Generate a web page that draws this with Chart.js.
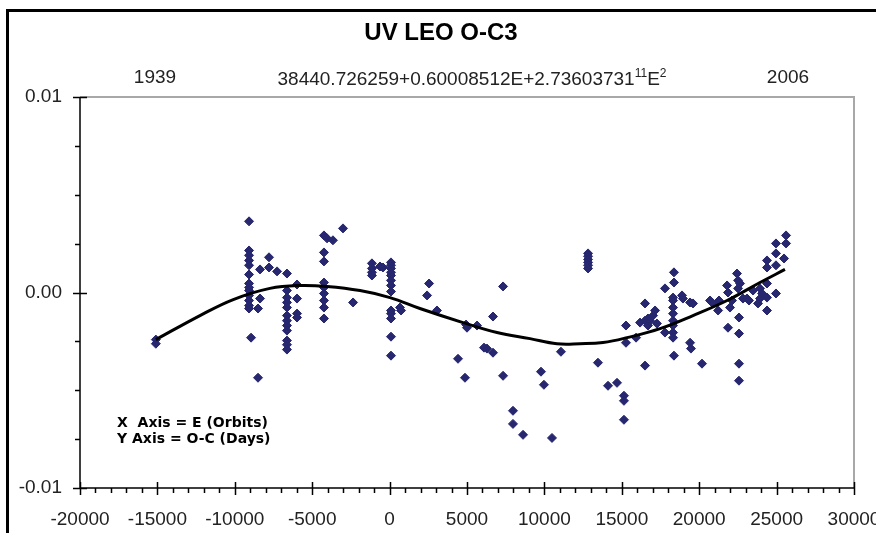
<!DOCTYPE html>
<html>
<head>
<meta charset="utf-8">
<title>UV LEO O-C3</title>
<script src="https://cdn.jsdelivr.net/npm/chart.js@4.4.1/dist/chart.umd.min.js"></script>
<style>
  html, body { margin: 0; padding: 0; background: #fff; }
  canvas { display: block; }
</style>
</head>
<body>
<canvas id="ocChart" width="876" height="533"></canvas>
<script>
// observed times of minimum: cycle number E and O-C residual in days
const orbitE = [
  -15100, -15100,
  -9080, -9080, -9080, -9080, -9080, -9080, -9080, -9080, -9080, -9080, -9080, -9080, -9080,
  -8950, -8500, -8500, -8370, -8370, -7790, -7790, -7270,
  -6630, -6630, -6630, -6630, -6630, -6630, -6630, -6630, -6630, -6630, -6630, -6630,
  -5980, -5980, -5980, -5980,
  -4240, -4240, -4240, -4240, -4240, -4240, -4240, -4240, -4240,
  -4040, -3660, -3010, -2360,
  -1140, -1140, -1140, -1140, -620, -430,
  90, 90, 90, 90, 90, 90, 90, 90, 90, 90, 90, 90, 90,
  670, 740, 2420, 2550, 3060, 4420, 4870, 4940, 5000, 5650, 6100, 6290,
  6680, 6680, 7330, 7330, 7970, 7970, 8620, 9780, 9970, 10490, 11070,
  12820, 12820, 12820, 12820, 12820, 12820,
  13460, 14110, 14690, 15140, 15140, 15140, 15270, 15270, 15920, 16180,
  16500, 16500, 16500, 16690, 16690, 16820, 17020, 17150, 17270,
  17790, 17790,
  18310, 18310, 18310, 18310, 18310, 18310, 18310, 18310,
  18370, 18370, 18370,
  18890, 18950, 19410, 19410, 19470, 19600, 20180, 20700, 20890, 21220, 21280,
  21800, 21860, 21860, 21990, 22120, 22440, 22510, 22510,
  22570, 22570, 22570, 22570, 22640, 22830, 23090, 23220, 23480, 23800, 23930, 23930, 24060,
  24380, 24380, 24380, 24380, 24380,
  24960, 24960, 24960, 24960,
  25480, 25610, 25610
];
const ocDays = [
  -0.00241, -0.00262,
  0.00364, 0.00215, 0.0019, 0.00164, 0.00139, 0.00092, 0.00046, 0.00026, 0.0001, -0.00015, -0.00041, -0.00067, -0.00082,
  -0.00231, -0.00436, -0.00082, 0.00118, -0.00031, 0.0018, 0.00128, 0.00108,
  0.00097, 0.0001, -0.00026, -0.00051, -0.00077, -0.00118, -0.00144, -0.00169, -0.00195, -0.00246, -0.00267, -0.00292,
  0.00041, -0.00031, -0.00108, -0.00128,
  0.00292, 0.00205, 0.00159, 0.00051, 0.00026, -0.00005, -0.00041, -0.00077, -0.00133,
  0.00277, 0.00267, 0.00328, -0.00051,
  0.00149, 0.00123, 0.00103, 0.00087, 0.00133, 0.00128,
  0.00154, 0.00139, 0.00123, 0.00103, 0.00087, 0.00062, 0.00036, 0.00005, -0.00092, -0.00108, -0.00133, -0.00226, -0.00323,
  -0.00077, -0.00092, -0.00015, 0.00046, -0.00092, -0.00339, -0.00436, -0.00164, -0.0018, -0.00169, -0.00282, -0.00287,
  -0.00123, -0.00308, 0.00031, -0.00426, -0.00605, -0.00672, -0.00728, -0.00405, -0.00472, -0.00744, -0.00303,
  0.002, 0.00185, 0.00169, 0.00154, 0.00139, 0.00123,
  -0.00359, -0.00477, -0.00462, -0.00528, -0.00554, -0.00651, -0.00169, -0.00257, -0.00231, -0.00154,
  -0.00056, -0.00144, -0.00374, -0.00133, -0.00169, -0.00144, -0.00118, -0.00092, -0.00159,
  0.00021, -0.00205,
  -0.00026, -0.00041, -0.00077, -0.00108, -0.00144, -0.00169, -0.00205, -0.00231,
  0.00103, 0.00051, -0.00323,
  -0.00015, -0.00031, -0.00051, -0.00257, -0.00287, -0.00056, -0.00364, -0.00041, -0.00056, -0.00092, -0.00041,
  0.00036, 0.0, -0.0018, -0.00077, -0.00041, 0.00097, 0.00062, 0.00021,
  -0.00128, -0.0021, -0.00364, -0.00451, 0.00046, -0.00031, -0.00031, -0.00041, 0.0001, -0.00056, 0.00021, -0.00031, -0.00005,
  0.00164, 0.00128, 0.00046, -0.00026, -0.00092,
  0.00251, 0.002, 0.00139, -0.00005,
  0.00174, 0.00292, 0.00251
];

// fitted trend through the residuals
const fitE = [-15100, -12250, -10100, -7730, -5790, -4040, -1910, 30, 1960, 4740, 6940,
  9070, 10810, 12300, 13790, 15340, 17470, 19600, 21800, 23930, 25540];
const fitOC = [-0.00241, -0.00118, -0.00036, 0.00021, 0.00036, 0.00031, 0.0001, -0.00026, -0.00082, -0.00154, -0.00205,
  -0.00236, -0.00262, -0.00262, -0.00256, -0.00231, -0.00185, -0.00118, -0.00041, 0.00051, 0.00118];

const titleText = 'UV LEO O-C3';
const yearLabels = ['1939', '2006'];
const ephemeris = ['38440.726259+0.60008512E+2.73603731', '11', 'E', '2'];
const axisNotes = ['X  Axis = E (Orbits)', 'Y Axis = O-C (Days)'];

const X_MIN = -20000, X_MAX = 30000;
const Y_MIN = -0.01, Y_MAX = 0.01;
const FONT = '"Liberation Sans", Arial, sans-serif';

const points = orbitE.map((e, i) => ({ x: e, y: ocDays[i] }));
const fit = fitE.map((e, i) => ({ x: e, y: fitOC[i] }));

// frame, axes with crossing major ticks, and the free text
const decorations = {
  id: 'decorations',
  beforeDraw(chart) {
    const ctx = chart.ctx;
    ctx.save();
    ctx.fillStyle = '#fff';
    ctx.fillRect(0, 0, chart.width, chart.height);
    ctx.restore();
  },
  beforeDatasetsDraw(chart) {
    const { ctx, chartArea: a } = chart;
    const xs = chart.scales.x, ys = chart.scales.y;
    ctx.save();
    // grey plot border on top and right
    ctx.strokeStyle = '#a8a8a8';
    ctx.lineWidth = 2;
    ctx.beginPath();
    ctx.moveTo(a.left, a.top);
    ctx.lineTo(a.right, a.top);
    ctx.lineTo(a.right, a.bottom);
    ctx.stroke();

    ctx.strokeStyle = '#000';
    ctx.lineWidth = 1.5;
    const yb = ys.getPixelForValue(Y_MIN);
    const xl = xs.getPixelForValue(X_MIN);
    ctx.beginPath();
    ctx.moveTo(xs.getPixelForValue(X_MIN), yb);
    ctx.lineTo(xs.getPixelForValue(X_MAX), yb);
    ctx.moveTo(xl, ys.getPixelForValue(Y_MAX));
    ctx.lineTo(xl, yb);
    for (let e = X_MIN; e <= X_MAX; e += 1000) {
      const px = Math.round(xs.getPixelForValue(e)) + 0.5;
      const major = e % 5000 === 0;
      ctx.moveTo(px, yb - (major ? 6 : 0));
      ctx.lineTo(px, yb + (major ? 7 : 5));
    }
    for (let i = -4; i <= 4; i++) {
      const py = Math.round(ys.getPixelForValue(i * 0.0025)) + 0.5;
      const major = i % 4 === 0;
      ctx.moveTo(xl - (major ? 7 : 5), py);
      ctx.lineTo(xl + (major ? 7 : 0), py);
    }
    ctx.stroke();
    ctx.restore();
  },
  afterDraw(chart) {
    const ctx = chart.ctx;
    ctx.save();
    // outer chart frame
    ctx.strokeStyle = '#000';
    ctx.lineWidth = 3;
    ctx.strokeRect(7.5, 10.5, 900, 600);

    ctx.fillStyle = '#000';
    ctx.textBaseline = 'middle';
    ctx.textAlign = 'center';
    ctx.font = 'bold 24px ' + FONT;
    ctx.fillText(titleText, 441, 33);

    ctx.fillStyle = '#222';
    ctx.font = '19px ' + FONT;
    ctx.fillText(yearLabels[0], 155, 78);
    ctx.fillText(yearLabels[1], 788, 78);

    // ephemeris with superscripts
    ctx.textAlign = 'left';
    ctx.textBaseline = 'alphabetic';
    const base = '19px ' + FONT, sup = '12px ' + FONT;
    const parts = [[ephemeris[0], base, 0], [ephemeris[1], sup, -8], [ephemeris[2], base, 0], [ephemeris[3], sup, -8]];
    let w = 0;
    parts.forEach(p => { ctx.font = p[1]; w += ctx.measureText(p[0]).width; });
    let px = 472 - w / 2;
    parts.forEach(p => {
      ctx.font = p[1];
      ctx.fillText(p[0], px, 85 + p[2]);
      px += ctx.measureText(p[0]).width;
    });

    ctx.fillStyle = '#000';
    ctx.font = 'bold 14px "DejaVu Sans", Verdana, sans-serif';
    ctx.textBaseline = 'middle';
    ctx.fillText(axisNotes[0], 117, 423);
    ctx.fillText(axisNotes[1], 117, 439);
    ctx.restore();
  }
};

const config = {
  type: 'scatter',
  data: {
    datasets: [
      {
        type: 'line',
        data: fit,
        borderColor: '#000',
        borderWidth: 3,
        pointRadius: 0,
        tension: 0.4,
        fill: false
      },
      {
        data: points,
        pointStyle: 'rectRot',
        pointRadius: 4.5,
        backgroundColor: '#27276f',
        borderColor: '#27276f',
        borderWidth: 1
      }
    ]
  },
  options: {
    responsive: false,
    animation: false,
    layout: { padding: { left: 0, right: 22, top: 97, bottom: 0 } },
    plugins: {
      legend: { display: false },
      tooltip: { enabled: false }
    },
    scales: {
      x: {
        type: 'linear',
        min: X_MIN,
        max: X_MAX,
        grid: { display: false, drawTicks: false },
        border: { display: false },
        ticks: {
          stepSize: 5000,
          padding: 20,
          color: '#222',
          font: { family: FONT, size: 19 },
          callback: v => String(v)
        },
        afterFit: s => {
          s.height = 45;
          s.paddingLeft = 0;
          s.paddingRight = 0;
        }
      },
      y: {
        min: Y_MIN,
        max: Y_MAX,
        grid: { display: false, drawTicks: false },
        border: { display: false },
        ticks: {
          stepSize: 0.01,
          padding: 18,
          color: '#222',
          font: { family: FONT, size: 19 },
          callback: v => v.toFixed(2)
        },
        afterFit: s => {
          s.width = 80;
          s.paddingTop = 0;
          s.paddingBottom = 0;
        }
      }
    }
  },
  plugins: [decorations]
};

const ocChart = new Chart(document.getElementById('ocChart'), config);
</script>
</body>
</html>
